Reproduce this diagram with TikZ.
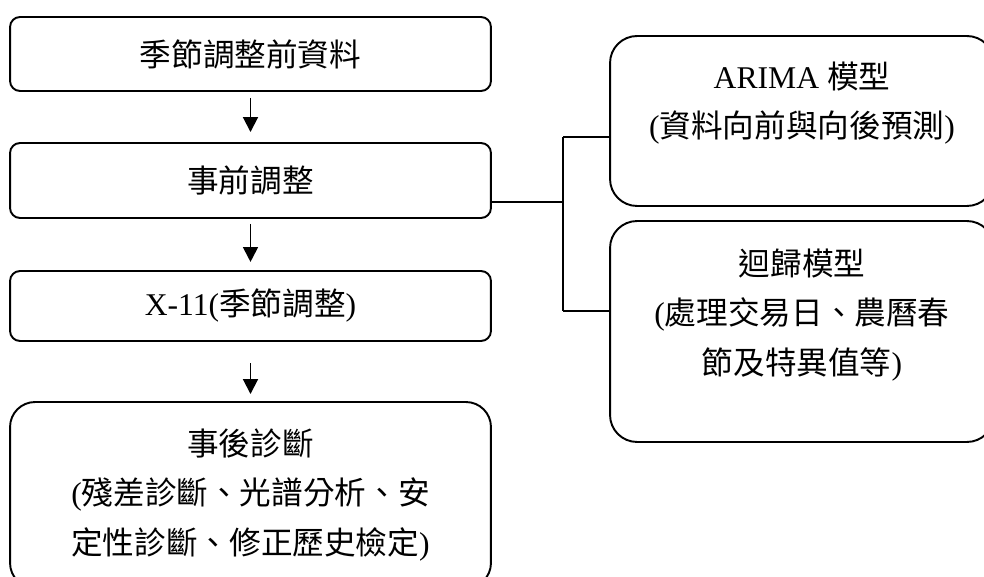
\documentclass[tikz,border=0pt]{standalone}
\usepackage{fontspec}
\setmainfont{Liberation Serif}
\newfontfamily\cjk{Noto Sans CJK TC}
\usepackage{tikz}
\usetikzlibrary{arrows.meta,calc}
\tikzstyle{lbox}=[rectangle,rounded corners=0.2cm,draw=black,
  line width=1.1pt,minimum width=9.62cm,align=center,
  font=\fontsize{18}{28}\selectfont]
\tikzstyle{rbox}=[rectangle,rounded corners=0.54cm,draw=black,
  line width=1.1pt,minimum width=7.68cm]
\tikzstyle{none}=[align=center,font=\fontsize{18}{28}\selectfont]
\tikzstyle{flow}=[line width=1.1pt,-{Triangle[length=8.5pt,width=8.5pt]}]
\tikzstyle{link}=[line width=1.1pt]
\newcommand{\zh}[1]{{\cjk #1}}

\begin{document}
\begin{tikzpicture}[x=0.02cm,y=-0.02cm]
            \clip (0,0) rectangle (984,577);
            \node [style=lbox, minimum height=1.48cm] (0) at (250.5, 54) {\zh{季節調整前資料}};
            \node [style=lbox, minimum height=1.5cm] (1) at (250.5, 180.5) {\zh{事前調整}};
            \node [style=lbox, minimum height=1.4cm] (2) at (250.5, 306) {X-11(\zh{季節調整})};
            \node [style=lbox, rounded corners=0.5cm, minimum height=3.72cm] (3) at (250.5, 495) {\zh{事後診斷}\\(\zh{殘差診斷、光譜分析、安}\\\zh{定性診斷、修正歷史檢定})};
            \node [style=rbox, minimum height=3.4cm] (4) at (802, 121) {};
            \node [style=rbox, minimum height=4.42cm] (5) at (802, 331.5) {};
            \node [style=none] (6) at (802, 103) {ARIMA \zh{模型}\\(\zh{資料向前與向後預測})};
            \node [style=none] (7) at (802, 315) {\zh{迴歸模型}\\(\zh{處理交易日、農曆春}\\\zh{節及特異值等})};
            \coordinate (8) at (563, 202);
            \coordinate (9) at (563, 137);
            \coordinate (10) at (563, 311);
            \draw [style=flow, shorten <=3.4pt, shorten >=5.7pt] (0) to (1);
            \draw [style=flow, shorten <=2.8pt, shorten >=4.6pt] (1) to (2);
            \draw [style=flow, shorten <=12pt, shorten >=4pt] (2) to (3);
            \draw [style=link] (1.east |- 8) to (8);
            \draw [style=link] (9) to (10);
            \draw [style=link] (9) to (9 -| 4.west);
            \draw [style=link] (10) to (10 -| 5.west);
\end{tikzpicture}
\end{document}
